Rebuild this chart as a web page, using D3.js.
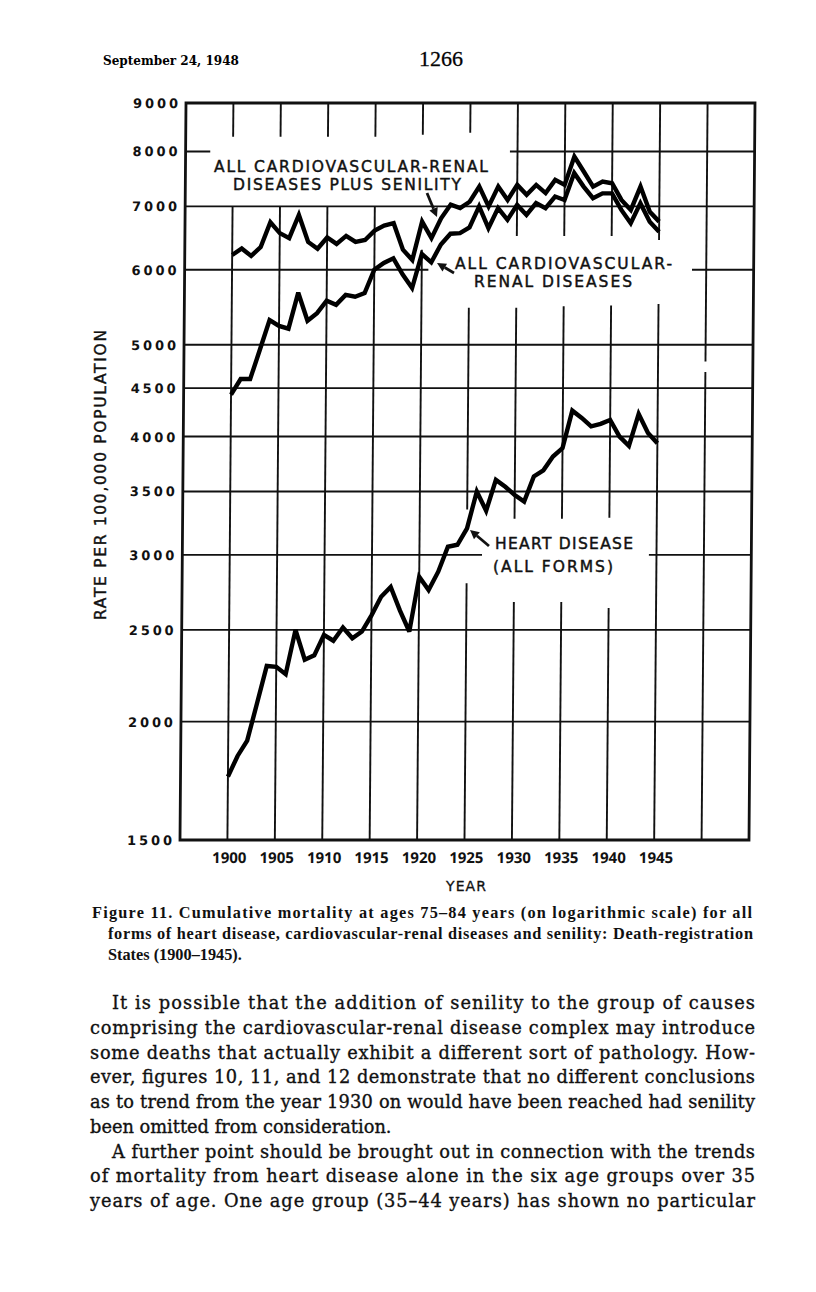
<!DOCTYPE html>
<html><head><meta charset="utf-8">
<script src="https://cdn.jsdelivr.net/npm/d3@7/dist/d3.min.js"></script>
<style>html,body{margin:0;padding:0;background:#fff;}svg{display:block;}</style>
</head><body>
<svg id="c" width="816" height="1292"></svg>
<script>
// ---------------- data ----------------
const years = d3.range(1900, 1946);
const senilityRates = [6220,6320,6205,6340,6735,6560,6480,6855,6420,6315,
  6490,6390,6515,6420,6450,6600,6680,6720,6300,6145,
  6745,6480,6800,7030,6970,7080,7345,7000,7345,7110,
  7375,7200,7375,7230,7465,7375,7900,7620,7345,7435,
  7405,7110,6940,7345,6910,6745];
const cvrRates = [4430,4600,4600,4940,5310,5235,5200,5675,5300,5400,
  5565,5510,5645,5620,5670,6000,6100,6170,5930,5740,
  6235,6110,6380,6550,6560,6650,7000,6640,6970,6775,
  7025,6855,7055,6970,7170,7110,7590,7345,7140,7225,
  7225,6940,6720,7055,6745,6580];
const heartRates = [1750,1840,1910,2090,2290,2285,2245,2500,2325,2350,
  2470,2435,2515,2450,2490,2590,2710,2775,2620,2490,
  2845,2755,2880,3060,3075,3200,3500,3340,3600,3540,
  3470,3415,3630,3685,3810,3890,4260,4185,4100,4125,
  4165,4000,3910,4225,4035,3935];
const yTickValues = [1500,2000,2500,3000,3500,4000,4500,5000,6000,7000,8000,9000];
const xTickValues = [1900,1905,1910,1915,1920,1925,1930,1935,1940,1945];
const xGridYears = [1900,1905,1910,1915,1920,1925,1930,1935,1940,1945,1950];
// grid segments (value ranges kept clear of the lettering)
const vGridSegments = {
  1900:[[8290,9000],[1500,7000]], 1905:[[8290,9000],[1500,7000]],
  1910:[[8290,9000],[1500,7000]], 1915:[[8290,9000],[1500,7000]],
  1920:[[8330,9000],[1500,6300]],
  1925:[[8370,9000],[3350,5470],[1500,2800]],
  1930:[[6515,9000],[3275,5470],[1500,2676]],
  1935:[[6515,9000],[3275,5490],[1500,2676]],
  1940:[[6515,9000],[3283,5500],[1500,2637]],
  1945:[[6450,9000],[1500,5522]],
  1950:[[1500,4680],[4800,9000]]
};
const hGridSegments = {
  8000:[[1895,1897.6],[1929.2,1955]], 7000:[[1895,1955]],
  6000:[[1895,1920.7],[1948.5,1955]], 5000:[[1895,1955]], 4500:[[1895,1955]],
  4000:[[1895,1955]], 3500:[[1895,1955]], 3000:[[1895,1926.6],[1944.2,1955]],
  2500:[[1895,1955]], 2000:[[1895,1955]]
};
const captionLines = [
  "Figure 11.  Cumulative mortality at ages 75\u201384 years (on logarithmic scale) for all",
  "forms of heart disease, cardiovascular-renal diseases and senility: Death-registration",
  "States (1900\u20131945)."
];
const bodyLines = [
  "It is possible that the addition of senility to the group of causes",
  "comprising the cardiovascular-renal disease complex may introduce",
  "some deaths that actually exhibit a different sort of pathology.  How-",
  "ever, figures 10, 11, and 12 demonstrate that no different conclusions",
  "as to trend from the year 1930 on would have been reached had senility",
  "been omitted from consideration.",
  "A further point should be brought out in connection with the trends",
  "of mortality from heart disease alone in the six age groups over 35",
  "years of age.  One age group (35\u201344 years) has shown no particular"
];

// ---------------- drawing ----------------
const svg = d3.select("#c");
const L = 180, R = 749, T = 103, B = 840;
const x = d3.scaleLinear().domain([1895, 1955]).range([L, R]);
const y = d3.scaleLog().domain([1500, 9000]).range([B, T]);

// header
svg.append("text").attr("x", 103).attr("y", 65)
  .attr("font-family", "DejaVu Serif").attr("font-weight", "bold").attr("font-size", 12)
  .attr("textLength", 136).attr("lengthAdjust", "spacingAndGlyphs")
  .text("September 24, 1948");
svg.append("text").attr("x", 419).attr("y", 66)
  .attr("font-family", "Liberation Serif").attr("font-size", 22)
  .attr("stroke", "#111").attr("stroke-width", 0.3)
  .text("1266");

// skewed plot group (the scan leans slightly)
const g = svg.append("g").attr("transform", `translate(0,${B}) skewX(-0.466) translate(0,${-B})`);

// vertical grid
xGridYears.forEach(yr => {
  (vGridSegments[yr] || []).forEach(s => {
    g.append("line").attr("x1", x(yr)).attr("x2", x(yr))
      .attr("y1", y(s[0])).attr("y2", y(s[1]))
      .attr("stroke", "#111").attr("stroke-width", 1.9);
  });
});
// horizontal grid
Object.keys(hGridSegments).forEach(k => {
  const v = +k;
  hGridSegments[k].forEach(s => {
    g.append("line").attr("x1", x(s[0])).attr("x2", x(s[1]))
      .attr("y1", y(v)).attr("y2", y(v))
      .attr("stroke", "#111").attr("stroke-width", 1.9);
  });
});
// frame
g.append("rect").attr("x", x(1895)).attr("y", y(9000))
  .attr("width", x(1955) - x(1895)).attr("height", y(1500) - y(9000))
  .attr("fill", "none").attr("stroke", "#111").attr("stroke-width", 2.8);

// y tick labels
g.selectAll("text.yt").data(yTickValues).enter().append("text")
  .attr("class", "yt")
  .attr("x", 172).attr("y", d => y(d) + 5)
  .attr("text-anchor", "end")
  .attr("font-family", "DejaVu Sans").attr("font-weight", "bold").attr("font-size", 13)
  .attr("textLength", 45).attr("lengthAdjust", "spacing")
  .attr("fill", "#111")
  .text(d => d);

// x tick labels
g.selectAll("text.xt").data(xTickValues).enter().append("text")
  .attr("class", "xt")
  .attr("x", d => x(d) + 2).attr("y", 863)
  .attr("text-anchor", "middle")
  .attr("font-family", "Noto Sans").attr("font-weight", 700).attr("font-size", 15)
  .attr("fill", "#111")
  .text(d => d);

// data lines
const line = d3.line().x((d, i) => x(years[i])).y(d => y(d));
[senilityRates, cvrRates, heartRates].forEach(arr => {
  g.append("path").datum(arr).attr("d", line)
    .attr("fill", "none").attr("stroke", "#000").attr("stroke-width", 4.4)
    .attr("stroke-linejoin", "miter").attr("stroke-miterlimit", 3);
});

// annotations
function label(txt, x0, y0, w) {
  svg.append("text").attr("x", x0).attr("y", y0)
    .attr("font-family", "DejaVu Sans").attr("font-size", 15.5)
    .attr("stroke", "#111").attr("stroke-width", 0.45)
    .attr("textLength", w).attr("lengthAdjust", "spacing")
    .attr("fill", "#111").text(txt);
}
label("ALL CARDIOVASCULAR-RENAL", 214, 171.5, 274);
label("DISEASES PLUS SENILITY", 233, 189.5, 228);
label("ALL CARDIOVASCULAR-", 455, 268.5, 217);
label("RENAL DISEASES", 474, 286.5, 158);
label("HEART DISEASE", 495, 548.5, 138);
label("(ALL FORMS)", 493, 571.5, 120);

function arrow(x1, y1, x2, y2) {
  const a = Math.atan2(y2 - y1, x2 - x1), h = 9, w = 4.5;
  const bx = x2 - h * Math.cos(a), by = y2 - h * Math.sin(a);
  svg.append("line").attr("x1", x1).attr("y1", y1).attr("x2", bx).attr("y2", by)
    .attr("stroke", "#111").attr("stroke-width", 2.8);
  svg.append("path").attr("d",
    `M${x2},${y2}L${bx - w * Math.sin(a)},${by + w * Math.cos(a)}L${bx + w * Math.sin(a)},${by - w * Math.cos(a)}Z`)
    .attr("fill", "#111");
}
arrow(427, 193, 437, 217);
arrow(454, 273, 437, 263);
arrow(489, 546, 470, 530);

// axis titles
svg.append("text").attr("transform", "translate(106,475) rotate(-90)")
  .attr("text-anchor", "middle")
  .attr("font-family", "DejaVu Sans").attr("font-size", 15.5)
  .attr("stroke", "#111").attr("stroke-width", 0.4)
  .attr("textLength", 290).attr("lengthAdjust", "spacing")
  .attr("fill", "#111").text("RATE PER 100,000 POPULATION");
svg.append("text").attr("x", 446).attr("y", 891)
  .attr("font-family", "DejaVu Sans").attr("font-size", 14)
  .attr("stroke", "#111").attr("stroke-width", 0.3)
  .attr("textLength", 40).attr("lengthAdjust", "spacing")
  .attr("fill", "#111").text("YEAR");

// caption
const capX = [92, 108, 108], capW = [660, 645, null], capY = [918, 939, 960];
captionLines.forEach((t, i) => {
  const el = svg.append("text").attr("x", capX[i]).attr("y", capY[i])
    .attr("font-family", "Liberation Serif").attr("font-weight", "bold").attr("font-size", 16.3)
    .attr("fill", "#111").text(t);
  if (capW[i]) el.attr("textLength", capW[i]).attr("lengthAdjust", "spacing");
});

// body text
const bodyX = [112, 90, 90, 90, 90, 90, 112, 90, 90];
const bodyJust = [true, true, true, true, true, false, true, true, true];
bodyLines.forEach((t, i) => {
  const el = svg.append("text").attr("x", bodyX[i]).attr("y", 1009 + i * 24.75)
    .attr("font-family", "DejaVu Serif").attr("font-size", 17.8)
    .attr("stroke", "#111").attr("stroke-width", 0.35)
    .attr("fill", "#111").text(t);
  if (bodyJust[i]) el.attr("textLength", 755 - bodyX[i]).attr("lengthAdjust", "spacing");
});
</script>
</body></html>
